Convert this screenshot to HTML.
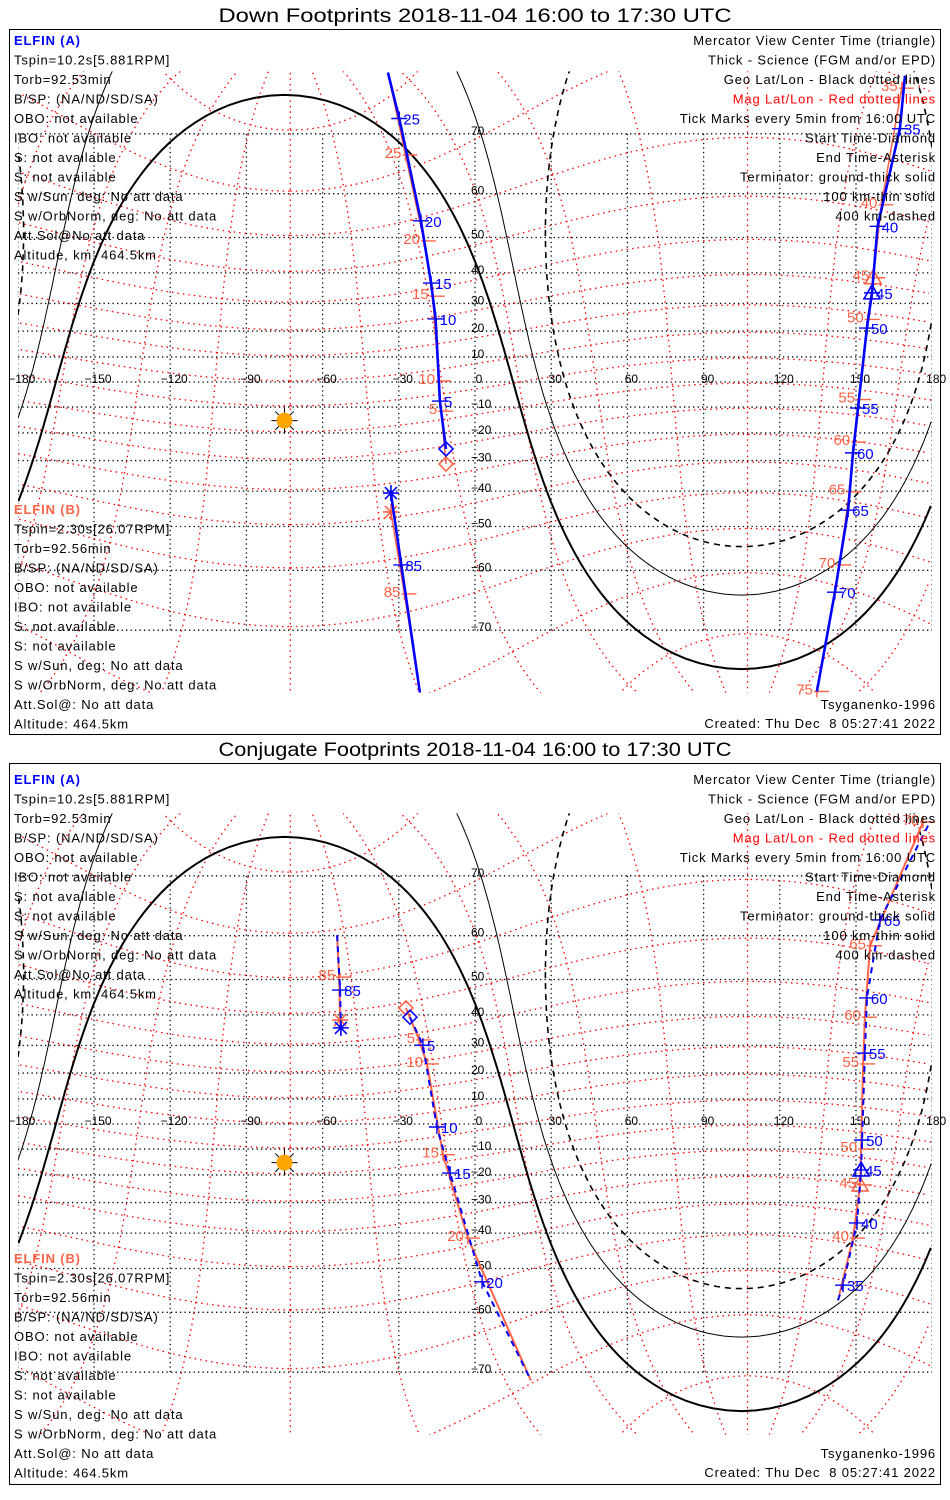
<!DOCTYPE html>
<html><head><meta charset="utf-8"><style>
html,body{margin:0;padding:0;background:#fff;overflow:hidden;width:950px;height:1500px}
svg{display:block}
text{font-family:"Liberation Sans",sans-serif;white-space:pre}
</style></head><body>
<svg id="root" width="950" height="1500" viewBox="0 0 950 1500" xmlns="http://www.w3.org/2000/svg"></svg>
<script>
// ---------- data ----------
const lonTicks = [-180,-150,-120,-90,-60,-30,0,30,60,90,120,150,180];
const latTicks = [-70,-60,-50,-40,-30,-20,-10,0,10,20,30,40,50,60,70];
const sunLon = -75, sunLat = -15.3;
const termAngles = [90, 100.1, 109.8]; // ground, 100 km, 400 km
const magPoleLat = 80.5, magPoleLon = -72.7;

// Panel 1 (down footprints)
const p1aBlueLon = [-34.3,-29.8,-21.3,-17.3,-15.5,-13.8,-11.4];
const p1aBlueLat = [76.9,72.0,54.1,36.8,24.5,-7.6,-25.9];
const p1aBlueLbl = ['','25','20','15','10','5',''];
const p1aBlueMrk = ['','','','','','','diamond'];
const p1aRedLon = [-34.3,-27.4,-20.1,-16.7,-14.2,-13.3,-11.4];
const p1aRedLat = [76.9,66.9,49.1,32.5,0.4,-11.6,-31.2];
const p1aRedLbl = ['','25','20','15','10','5',''];
const p1aRedMrk = ['','','','','','','diamond'];
const p1rBlueLon = [169.3,167.3,158.5,156.3,154.3,150.8,148.8,146.9,141.7,134.6];
const p1rBlueLat = [76.6,70.7,52.8,33.6,21.1,-10.4,-27.3,-45.6,-64.1,-76.9];
const p1rBlueLbl = ['','35','40','45','50','55','60','65','70',''];
const p1rBlueMrk = ['','','','triangle','','','','','',''];
const p1rRedLon = [169.3,168.0,160.0,156.8,154.6,151.2,149.3,147.4,143.4,134.6];
const p1rRedLat = [76.6,75.4,57.7,38.5,24.3,-7.0,-23.4,-40.2,-58.9,-76.9];
const p1rRedLbl = ['','35','40','45','50','55','60','65','70','75'];
const p1rRedMrk = ['','','','triangle','','','','','',''];
const p1bBlueLon = [-33.1,-29.0,-21.7];
const p1bBlueLat = [-40.6,-58.9,-77.0];
const p1bBlueLbl = ['','85',''];
const p1bBlueMrk = ['asterisk','',''];
const p1bRedLon = [-33.1,-27.8,-21.7];
const p1bRedLat = [-46.1,-64.4,-77.0];
const p1bRedLbl = ['','85',''];
const p1bRedMrk = ['asterisk','',''];

// Panel 2 (conjugate footprints)
const p2aBlueLon = [-25.6,-20.5,-15.0,-9.8,2.8,22.0];
const p2aBlueLat = [39.3,30.1,-1.2,-19.3,-53.3,-71.1];
const p2aBlueLbl = ['','5','10','15','20',''];
const p2aBlueMrk = ['diamond','','','','',''];
const p2aRedLon = [-27.2,-22.0,-18.9,-12.6,-2.8,22.0];
const p2aRedLat = [42.1,31.9,23.4,-12.2,-41.5,-71.1];
const p2aRedLbl = ['','5','10','15','20',''];
const p2aRedMrk = ['diamond','','','','',''];
const p2rBlueLon = [142.9,144.9,150.4,152.0,152.4,153.5,154.3,159.4,179.1];
const p2rBlueLat = [-57.5,-54.1,-36.8,-18.1,-6.4,27.3,45.0,63.0,76.2];
const p2rBlueLbl = ['','35','40','45','50','55','60','65',''];
const p2rBlueMrk = ['','','','triangle','','','','',''];
const p2rRedLon = [142.9,148.8,151.6,152.0,152.8,153.5,155.5,176.4];
const p2rRedLat = [-57.5,-41.5,-23.7,-10.0,23.4,39.3,57.9,76.2];
const p2rRedLbl = ['','40','45','50','55','60','65','70'];
const p2rRedMrk = ['','','triangle','','','','',''];
const p2bBlueLon = [-54.3,-53.1,-52.8];
const p2bBlueLat = [60.1,47.2,35.9];
const p2bBlueLbl = ['','85',''];
const p2bBlueMrk = ['','','asterisk'];
const p2bRedLon = [-54.3,-53.5,-53.1];
const p2bRedLat = [60.1,50.6,38.4];
const p2bRedLbl = ['','85',''];
const p2bRedMrk = ['','','asterisk'];

const leftA = ['Tspin=10.2s[5.881RPM]','Torb=92.53min','B/SP: (NA/ND/SD/SA)','OBO: not available','IBO: not available','S: not available','S: not available','S w/Sun, deg: No att data','S w/OrbNorm, deg: No att data','Att.Sol@No att data','Altitude, km: 464.5km'];
const leftB = ['Tspin=2.30s[26.07RPM]','Torb=92.56min','B/SP: (NA/ND/SD/SA)','OBO: not available','IBO: not available','S: not available','S: not available','S w/Sun, deg: No att data','S w/OrbNorm, deg: No att data','Att.Sol@: No att data','Altitude: 464.5km'];
const rightTxt = ['Mercator View Center Time (triangle)','Thick - Science (FGM and/or EPD)','Geo Lat/Lon - Black dotted lines','Mag Lat/Lon - Red dotted lines','Tick Marks every 5min from 16:00 UTC','Start Time-Diamond','End Time-Asterisk','Terminator: ground-thick solid','100 km-thin solid','400 km-dashed'];

// ---------- helpers ----------
const NS='http://www.w3.org/2000/svg';
const root=document.getElementById('root');
function mk(tag,attrs,parent){const e=document.createElementNS(NS,tag);for(const k in attrs)e.setAttribute(k,attrs[k]);(parent||root).appendChild(e);return e;}
const D=Math.PI/180;
function X(lon){return 475+lon*2.54;}
function Y(lat,off){return off+382-143*Math.log(Math.tan(Math.PI/4+lat*D/2));}
function pathFrom(pts,off){let d='',prev=null;for(const p of pts){const x=X(p[0]),y=Y(p[1],off);if(prev===null||Math.abs(p[0]-prev)>180)d+='M'+x.toFixed(1)+' '+y.toFixed(1);else d+='L'+x.toFixed(1)+' '+y.toFixed(1);prev=p[0];}return d;}
function norm(l){while(l>180)l-=360;while(l<-180)l+=360;return l;}
function magToGeo(mlat,mlon){
  const x=Math.cos(mlat*D)*Math.cos(mlon*D),y=Math.cos(mlat*D)*Math.sin(mlon*D),z=Math.sin(mlat*D);
  const t=(90-magPoleLat)*D,f=magPoleLon*D;
  const x1=Math.cos(t)*x+Math.sin(t)*z,y1=y,z1=-Math.sin(t)*x+Math.cos(t)*z;
  const x2=Math.cos(f)*x1-Math.sin(f)*y1,y2=Math.sin(f)*x1+Math.cos(f)*y1;
  return [Math.atan2(y2,x2)/D,Math.asin(Math.max(-1,Math.min(1,z1)))/D];
}
function circlePts(lat0,lon0,d){
  const pts=[];const a=lat0*D,dd=d*D;
  for(let az=0;az<=360;az+=1.5){const b=az*D;
    const la=Math.asin(Math.sin(a)*Math.cos(dd)+Math.cos(a)*Math.sin(dd)*Math.cos(b));
    const lo=lon0*D+Math.atan2(Math.sin(b)*Math.sin(dd)*Math.cos(a),Math.cos(dd)-Math.sin(a)*Math.sin(la));
    pts.push([norm(lo/D),la/D]);}
  return pts;
}

function drawPanel(off,tOff,bOff,title,tracks,idx){
  const g=mk('g',{});
  
  
  const tt=mk('text',{x:475,y:22+(idx===2?734:0),'text-anchor':'middle','font-size':19,textLength:513,lengthAdjust:'spacingAndGlyphs'},g);
  tt.textContent=title;
  
  
  const frame=mk('rect',{x:9.5,y:(idx===1?29.5:763.5),width:931,height:(idx===1?705:721),fill:'none',stroke:'#000','stroke-width':1},g);
  
  
  const cid='clip'+idx;
  const defs=mk('defs',{},g);const cp=mk('clipPath',{id:cid},defs);
  mk('rect',{x:18,y:Y(77,off),width:914,height:Y(-77,off)-Y(77,off)},cp);
  const mg=mk('g',{'clip-path':'url(#'+cid+')'},g);
  
  
  for(const la of latTicks){
    const l=mk('line',{x1:18,x2:932,y1:Y(la,off),y2:Y(la,off),stroke:'#000','stroke-width':1.3,'stroke-dasharray':'1.3 3.2'},mg);
    
    
  }
  for(const lo of lonTicks){
    const l=mk('line',{x1:X(lo),x2:X(lo),y1:Y(70,off),y2:Y(-70,off),stroke:'#000','stroke-width':1.3,'stroke-dasharray':'1.3 3.2'},mg);
    
    
  }
  for(let ml=-80;ml<=80;ml+=10){const pts=[];for(let m=0;m<=360;m+=2)pts.push(magToGeo(ml,m));
    const p=mk('path',{d:pathFrom(pts,off),fill:'none',stroke:'#ff0000','stroke-width':1.3,'stroke-dasharray':'1.5 4'},mg);
    
    }
  for(let mo=0;mo<360;mo+=30){const pts=[];for(let ml=-88;ml<=88;ml+=2)pts.push(magToGeo(ml,mo));
    const p=mk('path',{d:pathFrom(pts,off),fill:'none',stroke:'#ff0000','stroke-width':1.3,'stroke-dasharray':'1.5 4'},mg);
    
    }
  const tstyle=[{w:2,da:''},{w:1,da:''},{w:1.6,da:'6 5'}];
  termAngles.forEach((a,i)=>{const p=mk('path',{d:pathFrom(circlePts(sunLat,sunLon,a),off),fill:'none',stroke:'#000','stroke-width':tstyle[i].w,'stroke-dasharray':tstyle[i].da},mg);
    
    });
  for(const lo of lonTicks){const t=mk('text',{x:X(lo)+4,y:off+383,'text-anchor':'middle','font-size':12},g);t.textContent=String(lo).replace('-','−');
    
    }
  for(const la of latTicks){if(la===0)continue;const t=mk('text',{x:471,y:Y(la,off)+1,'font-size':12},g);t.textContent=String(la).replace('-','−');
    
    }
  const sx=X(sunLon),sy=Y(sunLat,off);
  for(let k=0;k<8;k++){const a=k*45*D;const r=mk('line',{x1:sx,y1:sy,x2:sx+13*Math.cos(a),y2:sy+13*Math.sin(a),stroke:'#000','stroke-width':1},g);
    
    }
  const sc=mk('circle',{cx:sx,cy:sy,r:8,fill:'#ffa500'},g);
  
  
  for(const tr of tracks){
    const pts=tr.lon.map((l,i)=>[l,tr.lat[i]]);
    const tg=mk('g',{'clip-path':'url(#'+cid+')'},g);
    
    
    const ln=mk('path',{d:pathFrom(pts,off),fill:'none',stroke:tr.col,'stroke-width':tr.w,'stroke-dasharray':tr.da||''},tg);
    
    
    pts.forEach((p,i)=>{const x=X(p[0]),y=Y(p[1],off);
      if(tr.lbl[i]){
        const d=tr.blue?`M${x-8} ${y}H${x+8}M${x} ${y-7}V${y+7}`:`M${x-3} ${y}H${x+12}M${x} ${y-6}V${y+6}`;
        const tk=mk('path',{d:d,stroke:tr.col,'stroke-width':1.4,fill:'none'},g);
        
        
        const t=mk('text',tr.blue?{x:x+4,y:y+6,'font-size':15,fill:tr.col}:{x:x-4,y:y+3,'font-size':15,fill:tr.col,'text-anchor':'end'},g);
        t.textContent=tr.lbl[i];
        
        
      }
      const m=tr.mrk[i];let d='';
      if(m==='diamond')d=`M${x} ${y-7}L${x+7} ${y}L${x} ${y+7}L${x-7} ${y}Z`;
      else if(m==='triangle')d=`M${x} ${y-8}L${x+8} ${y+6}L${x-8} ${y+6}Z`;
      else if(m==='asterisk')d=`M${x-8} ${y}H${x+8}M${x} ${y-8}V${y+8}M${x-6} ${y-6}L${x+6} ${y+6}M${x-6} ${y+6}L${x+6} ${y-6}`;
      if(d){const mm=mk('path',{d:d,fill:'none',stroke:tr.col,'stroke-width':1.6},g);
        
        }
    });
  }
  function txt(s,x,y,col,anchor,name){const t=mk('text',{x:x,y:y,'font-size':13,'letter-spacing':0.85,fill:col,'text-anchor':anchor||'start'},g);t.textContent=s;
    
    return t;}
  txt('ELFIN (A)',14,45+tOff,'#0000ff','start','elfin-a-title').setAttribute('font-weight','bold');
  leftA.forEach((s,i)=>txt(s,14,64.5+i*19.5+tOff,'#000','start','elfin-a-info'));
  txt('ELFIN (B)',14,514+bOff,'#ff6347','start','elfin-b-title').setAttribute('font-weight','bold');
  leftB.forEach((s,i)=>txt(s,14,533.5+i*19.5+bOff,'#000','start','elfin-b-info'));
  rightTxt.forEach((s,i)=>txt(s,936,45+i*19.5+tOff,i===3?'#ff0000':'#000','end','legend-entry'));
  txt('Tsyganenko-1996',936,709+bOff,'#000','end','model-label');
  txt('Created: Thu Dec  8 05:27:41 2022',936,728+bOff,'#000','end','created-label');
}

const BLUE='#0000ff',RED='#ff6347';
drawPanel(0,0,0,'Down Footprints 2018-11-04 16:00 to 17:30 UTC',[
 {name:'track-a-mag',lon:p1aRedLon,lat:p1aRedLat,lbl:p1aRedLbl,mrk:p1aRedMrk,col:RED,w:1.5},
 {name:'track-a-geo',lon:p1aBlueLon,lat:p1aBlueLat,lbl:p1aBlueLbl,mrk:p1aBlueMrk,col:BLUE,w:2.6,blue:true},
 {name:'track-a2-mag',lon:p1rRedLon,lat:p1rRedLat,lbl:p1rRedLbl,mrk:p1rRedMrk,col:RED,w:1.5},
 {name:'track-a2-geo',lon:p1rBlueLon,lat:p1rBlueLat,lbl:p1rBlueLbl,mrk:p1rBlueMrk,col:BLUE,w:2.6,blue:true},
 {name:'track-b-mag',lon:p1bRedLon,lat:p1bRedLat,lbl:p1bRedLbl,mrk:p1bRedMrk,col:RED,w:1.5},
 {name:'track-b-geo',lon:p1bBlueLon,lat:p1bBlueLat,lbl:p1bBlueLbl,mrk:p1bBlueMrk,col:BLUE,w:2.6,blue:true}
],1);
drawPanel(742,739,749,'Conjugate Footprints 2018-11-04 16:00 to 17:30 UTC',[
 {name:'track-a-mag',lon:p2aRedLon,lat:p2aRedLat,lbl:p2aRedLbl,mrk:p2aRedMrk,col:RED,w:2},
 {name:'track-a-geo',lon:p2aBlueLon,lat:p2aBlueLat,lbl:p2aBlueLbl,mrk:p2aBlueMrk,col:BLUE,w:2,da:'6 5',blue:true},
 {name:'track-a2-mag',lon:p2rRedLon,lat:p2rRedLat,lbl:p2rRedLbl,mrk:p2rRedMrk,col:RED,w:2},
 {name:'track-a2-geo',lon:p2rBlueLon,lat:p2rBlueLat,lbl:p2rBlueLbl,mrk:p2rBlueMrk,col:BLUE,w:2,da:'6 5',blue:true},
 {name:'track-b-mag',lon:p2bRedLon,lat:p2bRedLat,lbl:p2bRedLbl,mrk:p2bRedMrk,col:RED,w:2},
 {name:'track-b-geo',lon:p2bBlueLon,lat:p2bBlueLat,lbl:p2bBlueLbl,mrk:p2bBlueMrk,col:BLUE,w:2,da:'6 5',blue:true}
],2);
</script>
</body></html>
